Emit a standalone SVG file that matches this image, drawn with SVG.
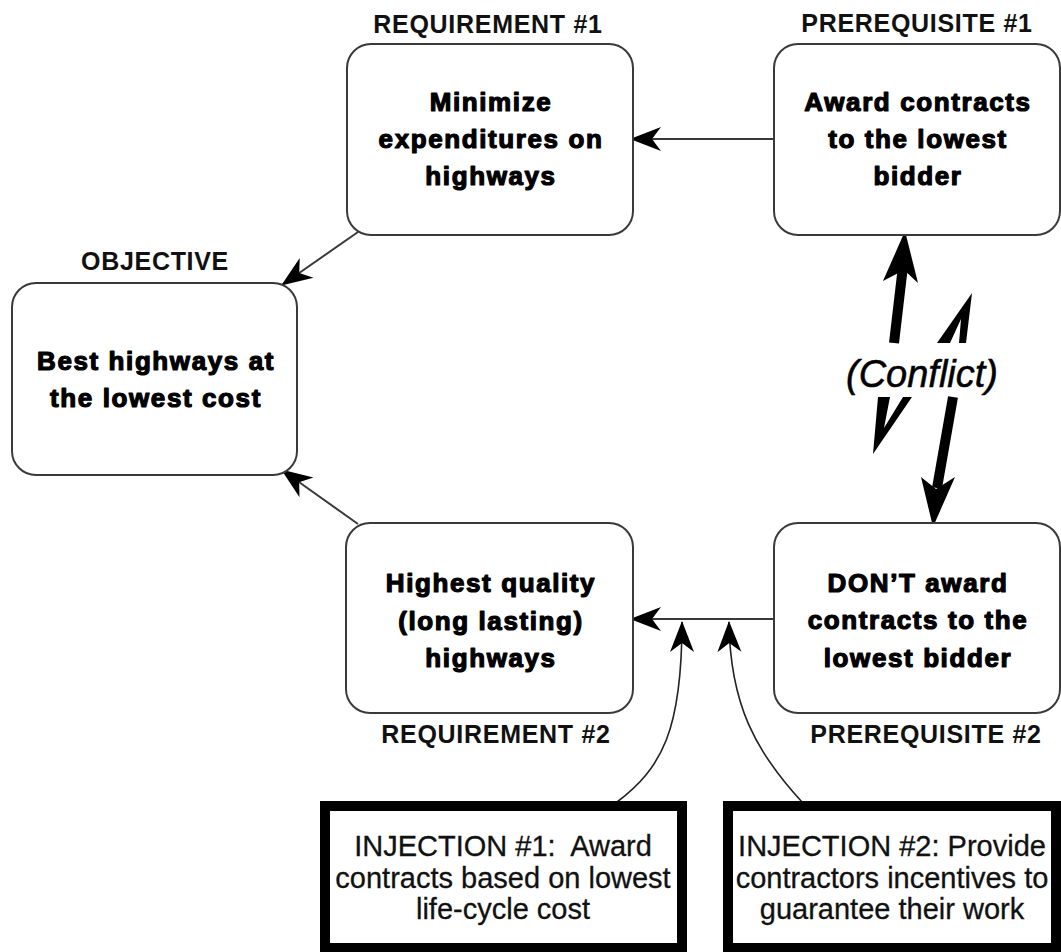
<svg xmlns="http://www.w3.org/2000/svg" width="1061" height="952" viewBox="0 0 1061 952">
  <style>
    .box { fill: #ffffff; stroke: #3a3a3a; stroke-width: 2; }
    .inj { fill: #ffffff; stroke: #000000; stroke-width: 10; }
    .lbl { font-family: "Liberation Sans", Arial, sans-serif; font-weight: bold; font-size: 25px; letter-spacing: 0.7px; fill: #111; text-anchor: middle; }
    .txt { font-family: "Liberation Sans", Arial, sans-serif; font-weight: bold; font-size: 26px; letter-spacing: 1.6px; fill: #000; stroke: #000; stroke-width: 1.2; stroke-linejoin: round; text-anchor: middle; }
    .injtxt { font-family: "Liberation Sans", Arial, sans-serif; font-size: 29px; fill: #111; stroke: #111; stroke-width: 0.3; text-anchor: middle; }
    .conf { font-family: "Liberation Sans", Arial, sans-serif; font-style: italic; font-size: 38px; fill: #000; stroke: #000; stroke-width: 0.5; text-anchor: middle; }
    .link { fill: none; stroke: #3a3a3a; stroke-width: 2; }
    .curve { fill: none; stroke: #222; stroke-width: 1.6; }
    .heavy { fill: #000; stroke: none; }
  </style>
  <defs>
    <marker id="barb" markerUnits="userSpaceOnUse" viewBox="-32 -13 34 26" refX="0" refY="0" markerWidth="34" markerHeight="26" orient="auto">
      <path d="M1,0 L-30,-12 L-21,0 L-30,12 Z" fill="#000"/>
    </marker>
  </defs>

  <rect width="1061" height="952" fill="#ffffff"/>

  <!-- connectors -->
  <g id="connectors">
    <line class="link" x1="358" y1="232" x2="282" y2="285" marker-end="url(#barb)"/>
    <line class="link" x1="358" y1="524" x2="282" y2="470" marker-end="url(#barb)"/>
    <line class="link" x1="774" y1="139" x2="631" y2="139" marker-end="url(#barb)"/>
    <line class="link" x1="774" y1="619" x2="631" y2="619" marker-end="url(#barb)"/>
    <path class="curve" d="M617,802 C662,768 682,730 682,622" marker-end="url(#barb)"/>
    <path class="curve" d="M802,802 C756,752 730,705 729,622" marker-end="url(#barb)"/>

    <!-- conflict symbol: two opposed arrows split by the label -->
    <g id="conflict">
      <line x1="894" y1="343" x2="903" y2="266" stroke="#000" stroke-width="10"/>
      <polygon class="heavy" points="905,231 918,283 904,270 883,281"/>
      <polygon class="heavy" points="878,397 890,397 884,428 903,397 912,397 873,454"/>
      <polygon class="heavy" points="972,293 966,343 959,343 961,319 950,343 937,343"/>
      <line x1="953" y1="397" x2="937" y2="488" stroke="#000" stroke-width="10"/>
      <polygon class="heavy" points="933,527 921,477 936,489 955,477"/>
      <text class="conf" x="922" y="387">(Conflict)</text>
    </g>
  </g>

  <!-- objective -->
  <g id="objective">
    <text class="lbl" x="155" y="270">OBJECTIVE</text>
    <rect class="box" x="12" y="283" width="285" height="192" rx="24" ry="24"/>
    <text class="txt" x="156" y="370">Best highways at</text>
    <text class="txt" x="156" y="407">the lowest cost</text>
  </g>

  <!-- requirement 1 -->
  <g id="requirement1">
    <text class="lbl" x="488" y="33">REQUIREMENT #1</text>
    <rect class="box" x="347" y="44" width="286" height="191" rx="24" ry="24"/>
    <text class="txt" x="491" y="111">Minimize</text>
    <text class="txt" x="491" y="148">expenditures on</text>
    <text class="txt" x="491" y="185">highways</text>
  </g>

  <!-- prerequisite 1 -->
  <g id="prerequisite1">
    <text class="lbl" x="917" y="32">PREREQUISITE #1</text>
    <rect class="box" x="774" y="44" width="286" height="191" rx="24" ry="24"/>
    <text class="txt" x="918" y="111">Award contracts</text>
    <text class="txt" x="918" y="148">to the lowest</text>
    <text class="txt" x="918" y="185">bidder</text>
  </g>

  <!-- requirement 2 -->
  <g id="requirement2">
    <rect class="box" x="346" y="523" width="287" height="190" rx="24" ry="24"/>
    <text class="txt" x="491" y="592">Highest quality</text>
    <text class="txt" x="491" y="630">(long lasting)</text>
    <text class="txt" x="491" y="667">highways</text>
    <text class="lbl" x="496" y="743">REQUIREMENT #2</text>
  </g>

  <!-- prerequisite 2 -->
  <g id="prerequisite2">
    <rect class="box" x="774" y="523" width="286" height="190" rx="24" ry="24"/>
    <text class="txt" x="918" y="592">DON’T award</text>
    <text class="txt" x="918" y="629">contracts to the</text>
    <text class="txt" x="918" y="667">lowest bidder</text>
    <text class="lbl" x="926" y="743">PREREQUISITE #2</text>
  </g>

  <!-- injection 1 -->
  <g id="injection1">
    <rect class="inj" x="325" y="806" width="357" height="142"/>
    <text class="injtxt" x="503" y="856" xml:space="preserve">INJECTION #1:  Award</text>
    <text class="injtxt" x="503" y="888">contracts based on lowest</text>
    <text class="injtxt" x="503" y="919">life-cycle cost</text>
  </g>

  <!-- injection 2 -->
  <g id="injection2">
    <rect class="inj" x="728" y="806" width="328" height="142"/>
    <text class="injtxt" x="892" y="856">INJECTION #2: Provide</text>
    <text class="injtxt" x="892" y="888">contractors incentives to</text>
    <text class="injtxt" x="892" y="919">guarantee their work</text>
  </g>
</svg>
